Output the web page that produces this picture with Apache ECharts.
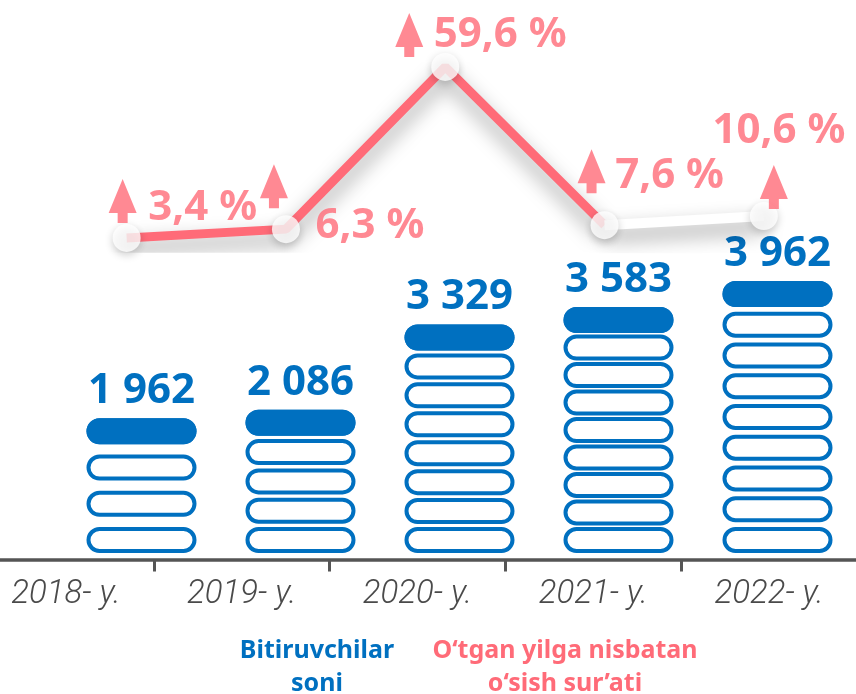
<!DOCTYPE html>
<html>
<head>
<meta charset="utf-8">
<script src="https://cdn.jsdelivr.net/npm/echarts@6/dist/echarts.min.js"></script>
<style>
html, body { margin: 0; padding: 0; background: #fff; }
#chart { width: 856px; height: 694px; }
</style>
</head>
<body>
<div id="chart"></div>
<script>
const years = ['2018- y.', '2019- y.', '2020- y.', '2021- y.', '2022- y.'];
const graduates = [1962, 2086, 3329, 3583, 3962];
const growth = [3.4, 6.3, 59.6, 7.6, 10.6];
const pills = [4, 5, 8, 9, 9];   // pill icons drawn in each stack

const blue = '#0070C0';
const pink = '#FF6B78';
const grey = '#555555';
// outlined pill = outer capsule with the inner one cut out
const ring = 'path://M13,0 L97,0 A13,13 0 0 1 97,26 L13,26 A13,13 0 0 1 13,0 Z ' +
             'M13,4 A9,9 0 0 0 13,22 L97,22 A9,9 0 0 0 97,4 Z';
const pill = 'path://M13,0 L97,0 A13,13 0 0 1 97,26 L13,26 A13,13 0 0 1 13,0 Z';
const arrow = 'path://M14,0 L28,34 L19,34 L19,44 L9,44 L9,34 L0,34 Z';

// where the arrows and % texts sit around each point
const arrowOff = [[-4, -37], [-12, -43], [-36, -32], [-13, -54], [10, -29]];
const textOff = [[76, -30], [84, -3], [55, -32], [65, -49], [15, -85]];

function fmtNum(v) { return String(v).replace(/\B(?=(\d{3})+(?!\d))/g, ' '); }
function fmtPct(v) { return v.toFixed(1).replace('.', ',') + ' %'; }

const shadow = { shadowColor: 'rgba(0,0,0,0.4)', shadowBlur: 20, shadowOffsetY: 10 };
const legendFont = 'bold 25px "Noto Sans"';

const option = {
  animation: false,
  grid: [
    { left: -22, right: -1, top: 300, bottom: 134.5, outerBoundsMode: 'none' },   // axis + year labels
    { left: 62, right: -1, top: 278.4, bottom: 141, outerBoundsMode: 'none' },    // pill stacks
    { left: 47, right: 12.5, top: 65.7, bottom: 445.7, outerBoundsMode: 'none' }  // growth line
  ],
  xAxis: [
    {
      gridIndex: 0, type: 'category', data: years,
      axisLine: { lineStyle: { color: grey, width: 3.5 } },
      axisTick: { show: true, length: 12, lineStyle: { color: grey, width: 3 } },
      axisLabel: {
        margin: 19, color: '#4a4a4a', fontSize: 33, fontStyle: 'italic',
        fontWeight: 300, fontFamily: 'Roboto'
      }
    },
    { gridIndex: 1, type: 'category', data: years, show: false },
    { gridIndex: 2, type: 'category', data: years, show: false }
  ],
  yAxis: [
    { gridIndex: 0, type: 'value', show: false },
    { gridIndex: 1, type: 'value', min: 0, max: 4000, show: false },
    { gridIndex: 2, type: 'value', min: 0, max: 60, show: false }
  ],
  graphic: [
    { type: 'text', x: 317, y: 651, style: { text: 'Bitiruvchilar', fill: blue, font: legendFont, align: 'center', verticalAlign: 'middle' } },
    { type: 'text', x: 317, y: 684, style: { text: 'soni', fill: blue, font: legendFont, align: 'center', verticalAlign: 'middle' } },
    { type: 'text', x: 565, y: 651, style: { text: 'O‘tgan yilga nisbatan', fill: pink, font: legendFont, align: 'center', verticalAlign: 'middle' } },
    { type: 'text', x: 565, y: 684, style: { text: 'o‘sish sur’ati', fill: pink, font: legendFont, align: 'center', verticalAlign: 'middle' } }
  ],
  series: [
    {
      type: 'pictorialBar', xAxisIndex: 1, yAxisIndex: 1, z: 2,
      symbol: ring, symbolSize: [110, 26],
      itemStyle: { color: blue },
      data: graduates.map((v, i) => ({ value: v, symbolRepeat: pills[i], symbolBoundingData: v }))
    },
    {
      type: 'pictorialBar', xAxisIndex: 1, yAxisIndex: 1, z: 3,
      symbol: pill, symbolSize: [110, 26], symbolPosition: 'end',
      itemStyle: { color: blue },
      label: {
        show: true, position: 'top', distance: 6, color: blue,
        fontSize: 42, fontWeight: 'bold', fontFamily: 'Noto Sans',
        formatter: p => fmtNum(p.value)
      },
      data: graduates
    },
    {
      type: 'line', xAxisIndex: 2, yAxisIndex: 2, z: 4, showSymbol: false,
      lineStyle: Object.assign({ color: pink, width: 9 }, shadow),
      data: growth.map((v, i) => (i < 4 ? v : null))
    },
    {
      type: 'line', xAxisIndex: 2, yAxisIndex: 2, z: 4, showSymbol: false,
      lineStyle: Object.assign({ color: '#fff', width: 10 }, shadow),
      data: growth.map((v, i) => (i >= 3 ? v : null))
    },
    {
      type: 'scatter', xAxisIndex: 2, yAxisIndex: 2, z: 5,
      symbol: 'circle', symbolSize: 28,
      itemStyle: { color: '#fff', shadowColor: 'rgba(0,0,0,0.25)', shadowBlur: 8, shadowOffsetY: 3 },
      label: {
        show: true, position: 'inside', color: pink,
        fontSize: 42, fontWeight: 'bold', fontFamily: 'Noto Sans',
        formatter: p => fmtPct(p.value)
      },
      data: growth.map((v, i) => ({ value: v, label: { offset: textOff[i] } }))
    },
    {
      type: 'scatter', xAxisIndex: 2, yAxisIndex: 2, z: 6,
      symbol: arrow, symbolSize: [28, 44],
      itemStyle: { color: pink },
      data: growth.map((v, i) => ({ value: v, symbolOffset: arrowOff[i] }))
    }
  ]
};

const chart = echarts.init(document.getElementById('chart'));
chart.setOption(option);
</script>
</body>
</html>
